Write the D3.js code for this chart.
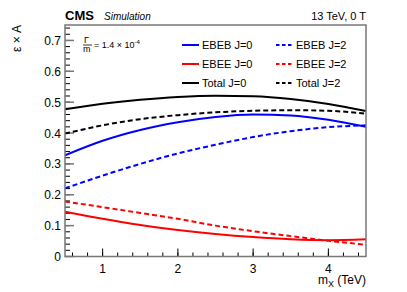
<!DOCTYPE html>
<html>
<head>
<meta charset="utf-8">
<script src="https://cdn.jsdelivr.net/npm/d3@7"></script>
<style>
  body { margin: 0; background: #fff; }
  text { font-family: "Liberation Sans", Arial, sans-serif; }
</style>
</head>
<body>
<svg id="chart" width="407" height="292"></svg>
<script>
// masses (TeV)
var masses = [0.5, 1.0, 1.5, 2.0, 2.5, 3.0, 3.5, 4.0, 4.5];

// efficiency x acceptance
var ebebJ0 = [0.328, 0.375, 0.410, 0.435, 0.452, 0.460, 0.457, 0.443, 0.420];
var ebebJ2 = [0.221, 0.262, 0.300, 0.334, 0.362, 0.387, 0.406, 0.419, 0.425];
var ebeeJ0 = [0.145, 0.122, 0.102, 0.086, 0.073, 0.063, 0.056, 0.053, 0.056];
var ebeeJ2 = [0.178, 0.160, 0.141, 0.122, 0.100, 0.082, 0.066, 0.051, 0.038];
var totalJ0 = [0.477, 0.495, 0.508, 0.517, 0.521, 0.519, 0.510, 0.494, 0.471];
var totalJ2 = [0.398, 0.425, 0.445, 0.458, 0.467, 0.472, 0.474, 0.472, 0.463];

var xTicks = [1, 2, 3, 4];
var yTicks = [0, 0.1, 0.2, 0.3, 0.4, 0.5, 0.6, 0.7];

var series = [
    {name: "EBEB J=0", values: ebebJ0, color: "#0000ff", dashed: false},
    {name: "EBEE J=0", values: ebeeJ0, color: "#ff0000", dashed: false},
    {name: "Total J=0", values: totalJ0, color: "#000000", dashed: false},
    {name: "EBEB J=2", values: ebebJ2, color: "#0000ff", dashed: true},
    {name: "EBEE J=2", values: ebeeJ2, color: "#ff0000", dashed: true},
    {name: "Total J=2", values: totalJ2, color: "#000000", dashed: true}
];

var svg = d3.select("#chart");
var pLeft = 65, pRight = 366, pTop = 25, pBottom = 256.5;

var x = d3.scaleLinear().domain([0.5, 4.5]).range([pLeft, pRight]);
var y = d3.scaleLinear().domain([0, 0.75]).range([pBottom, pTop]);

var axisColor = "#777";

//刻度
var g = svg.append("g");
g.selectAll("line.xminor")
    .data(d3.range(0.6, 4.5, 0.2))
    .join("line")
    .attr("x1", d => x(d)).attr("x2", d => x(d))
    .attr("y1", pBottom).attr("y2", pBottom - 4)
    .attr("stroke", "#000").attr("stroke-width", 1);

g.selectAll("line.xmajor")
    .data(xTicks)
    .join("line")
    .attr("x1", d => x(d)).attr("x2", d => x(d))
    .attr("y1", pBottom).attr("y2", pBottom - 8)
    .attr("stroke", "#000").attr("stroke-width", 1);

g.selectAll("line.yminor")
    .data(d3.range(0.02, 0.75, 0.02))
    .join("line")
    .attr("x1", pLeft).attr("x2", pLeft + 5)
    .attr("y1", d => y(d)).attr("y2", d => y(d))
    .attr("stroke", "#000").attr("stroke-width", 1);

g.selectAll("line.ymajor")
    .data(yTicks)
    .join("line")
    .attr("x1", pLeft).attr("x2", pLeft + 9)
    .attr("y1", d => y(d)).attr("y2", d => y(d))
    .attr("stroke", axisColor).attr("stroke-width", 1.5);

g.selectAll("text.xlab")
    .data(xTicks)
    .join("text")
    .attr("x", d => x(d))
    .attr("y", pBottom + 16)
    .attr("text-anchor", "middle")
    .attr("font-size", 12)
    .text(d => d);

g.selectAll("text.ylab")
    .data(yTicks)
    .join("text")
    .attr("x", pLeft - 4)
    .attr("y", d => y(d) + 4.5)
    .attr("text-anchor", "end")
    .attr("font-size", 12)
    .text(d => d === 0 ? "0" : d3.format(".1f")(d));

//曲线
var line = d3.line()
    .x((d, i) => x(masses[i]))
    .y(d => y(d))
    .curve(d3.curveMonotoneX);

svg.append("clipPath").attr("id", "clip")
    .append("rect").attr("x", pLeft).attr("y", pTop)
    .attr("width", pRight - pLeft).attr("height", pBottom - pTop);

svg.append("g")
    .attr("clip-path", "url(#clip)")
    .selectAll("path")
    .data(series)
    .join("path")
    .attr("d", d => line(d.values))
    .attr("fill", "none")
    .attr("stroke", d => d.color)
    .attr("stroke-width", 2)
    .attr("stroke-dasharray", d => d.dashed ? "5,3" : null);

//边框
svg.append("rect")
    .attr("x", pLeft).attr("y", pTop)
    .attr("width", pRight - pLeft).attr("height", pBottom - pTop)
    .attr("fill", "none")
    .attr("stroke", axisColor)
    .attr("stroke-width", 1.5);

//图例
var legend = svg.append("g");
var rowY = [45, 64, 83];
var colX = [182, 276];
series.forEach(function (s, i) {
    var cx = colX[Math.floor(i / 3)], cy = rowY[i % 3];
    legend.append("line")
        .attr("x1", cx).attr("x2", cx + 17)
        .attr("y1", cy).attr("y2", cy)
        .attr("stroke", s.color)
        .attr("stroke-width", 2)
        .attr("stroke-dasharray", s.dashed ? "3.5,2.5" : null);
    legend.append("text")
        .attr("x", cx + 20)
        .attr("y", cy + 4)
        .attr("font-size", 11)
        .text(s.name);
});

//标题
svg.append("text")
    .attr("x", pLeft).attr("y", 20)
    .attr("font-size", 13).attr("font-weight", "bold")
    .text("CMS");
svg.append("text")
    .attr("x", 104).attr("y", 20)
    .attr("font-size", 10).attr("font-style", "italic")
    .text("Simulation");
svg.append("text")
    .attr("x", pRight).attr("y", 20)
    .attr("text-anchor", "end")
    .attr("font-size", 11)
    .text("13 TeV, 0 T");

// Γ/m
var gm = svg.append("g");
gm.append("text").attr("x", 84).attr("y", 43).attr("font-size", 9).text("Γ");
gm.append("line").attr("x1", 83).attr("x2", 92).attr("y1", 45).attr("y2", 45)
    .attr("stroke", "#000").attr("stroke-width", 0.8);
gm.append("text").attr("x", 83).attr("y", 52).attr("font-size", 9).text("m");
gm.append("text").attr("x", 94).attr("y", 48).attr("font-size", 9)
    .text("= 1.4 × 10")
    .append("tspan").attr("dy", -4).attr("font-size", 6).text("-4");

//轴标题
svg.append("text")
    .attr("transform", "translate(21," + pTop + ") rotate(-90)")
    .attr("text-anchor", "end")
    .attr("font-size", 12)
    .text("ε × A");

var xt = svg.append("text")
    .attr("x", pRight).attr("y", 284)
    .attr("text-anchor", "end")
    .attr("font-size", 12);
xt.append("tspan").text("m");
xt.append("tspan").attr("dy", 3).attr("font-size", 9).text("X");
xt.append("tspan").attr("dy", -3).text(" (TeV)");
</script>
</body>
</html>
